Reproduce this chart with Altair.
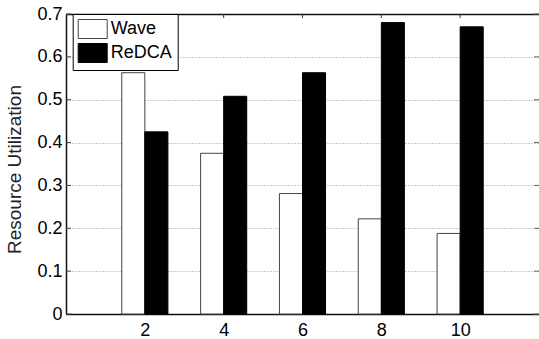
import altair as alt
import pandas as pd

categories = [2, 4, 6, 8, 10]
wave = [0.563, 0.375, 0.281, 0.222, 0.188]
redca = [0.425, 0.508, 0.563, 0.680, 0.670]
series = ["Wave", "ReDCA"]
y_ticks = [0, 0.1, 0.2, 0.3, 0.4, 0.5, 0.6, 0.7]
x_ticks = [2, 4, 6, 8, 10]
bar_w = 0.585

rows = []
for c, w, r in zip(categories, wave, redca):
    rows.append({"cat": c, "series": "Wave", "value": w, "x0": c - bar_w, "x1": c, "base": 0})
    rows.append({"cat": c, "series": "ReDCA", "value": r, "x0": c, "x1": c + bar_w, "base": 0})
df = pd.DataFrame(rows)
xt = pd.DataFrame({"x0": x_ticks})
yt = pd.DataFrame({"value": y_ticks})

W, H = 473, 300
FONT = "Liberation Sans"
xscale = alt.Scale(domain=[0, 12], nice=False, zero=False)
yscale = alt.Scale(domain=[0, 0.7], nice=False)

yaxis = alt.Axis(values=y_ticks, format=".1~f", title="Resource Utilization",
                 ticks=False, grid=True, gridDash=[1, 2], gridColor="#999",
                 domainColor="#111", domainWidth=1.5, labelPadding=4,
                 titlePadding=12, labelFontSize=18, titleFontSize=19, titleY=155,
                 titleFontWeight="normal", labelColor="black", titleColor="#222")

bars = alt.Chart(df).mark_rect(strokeWidth=1).encode(
    x=alt.X("x0:Q", scale=xscale,
            axis=alt.Axis(values=x_ticks, format="d", orient="bottom", title=None,
                          ticks=False, labelPadding=7, grid=False,
                          domainColor="#111", domainWidth=1.5,
                          labelFontSize=18, labelColor="black")),
    x2="x1:Q",
    y=alt.Y("value:Q", scale=yscale, axis=yaxis),
    y2="base:Q",
    color=alt.Color("series:N", scale=alt.Scale(domain=series, range=["white", "black"]),
                    legend=alt.Legend(title=None, orient="none", legendX=6.7, legendY=0,
                                      symbolType="M-1.526,-1L1.526,-1L1.526,1L-1.526,1Z",
                                      symbolSize=361, symbolStrokeColor="#333",
                                      symbolStrokeWidth=1, labelFontSize=18, labelFont=FONT,
                                      labelColor="black", symbolOffset=5,
                                      strokeColor="black", fillColor="white", padding=5,
                                      rowPadding=0, labelOffset=8)),
    stroke=alt.Stroke("series:N", scale=alt.Scale(domain=series, range=["#444", "black"]),
                      legend=None),
)

top_ticks = alt.Chart(xt).mark_rule(color="#333", strokeWidth=1).encode(
    x=alt.X("x0:Q", scale=xscale,
            axis=alt.Axis(orient="top", labels=False, ticks=False, title=None, grid=False,
                          domainColor="#111", domainWidth=1.5)),
    y=alt.value(0), y2=alt.value(4),
)

left_ticks = alt.Chart(yt).mark_rule(color="#444", strokeWidth=1).encode(
    y=alt.Y("value:Q", scale=yscale, axis=yaxis),
    x=alt.value(0), x2=alt.value(5),
)
right_ticks = alt.Chart(yt).mark_rule(color="#666", strokeWidth=1).encode(
    y=alt.Y("value:Q", scale=yscale, axis=yaxis),
    x=alt.value(W - 5), x2=alt.value(W),
)

chart = alt.layer(bars, top_ticks, left_ticks, right_ticks).resolve_axis(
    x="independent"
).properties(
    width=W, height=H,
    autosize=alt.AutoSizeParams(type="none"),
    padding={"left": 66, "top": 14, "right": 0, "bottom": 25},
    background="white",
).configure_view(stroke=None).configure_axis(
    labelFont=FONT, titleFont=FONT
)

chart.save("out.html", embed_options={"renderer": "svg", "actions": False})
